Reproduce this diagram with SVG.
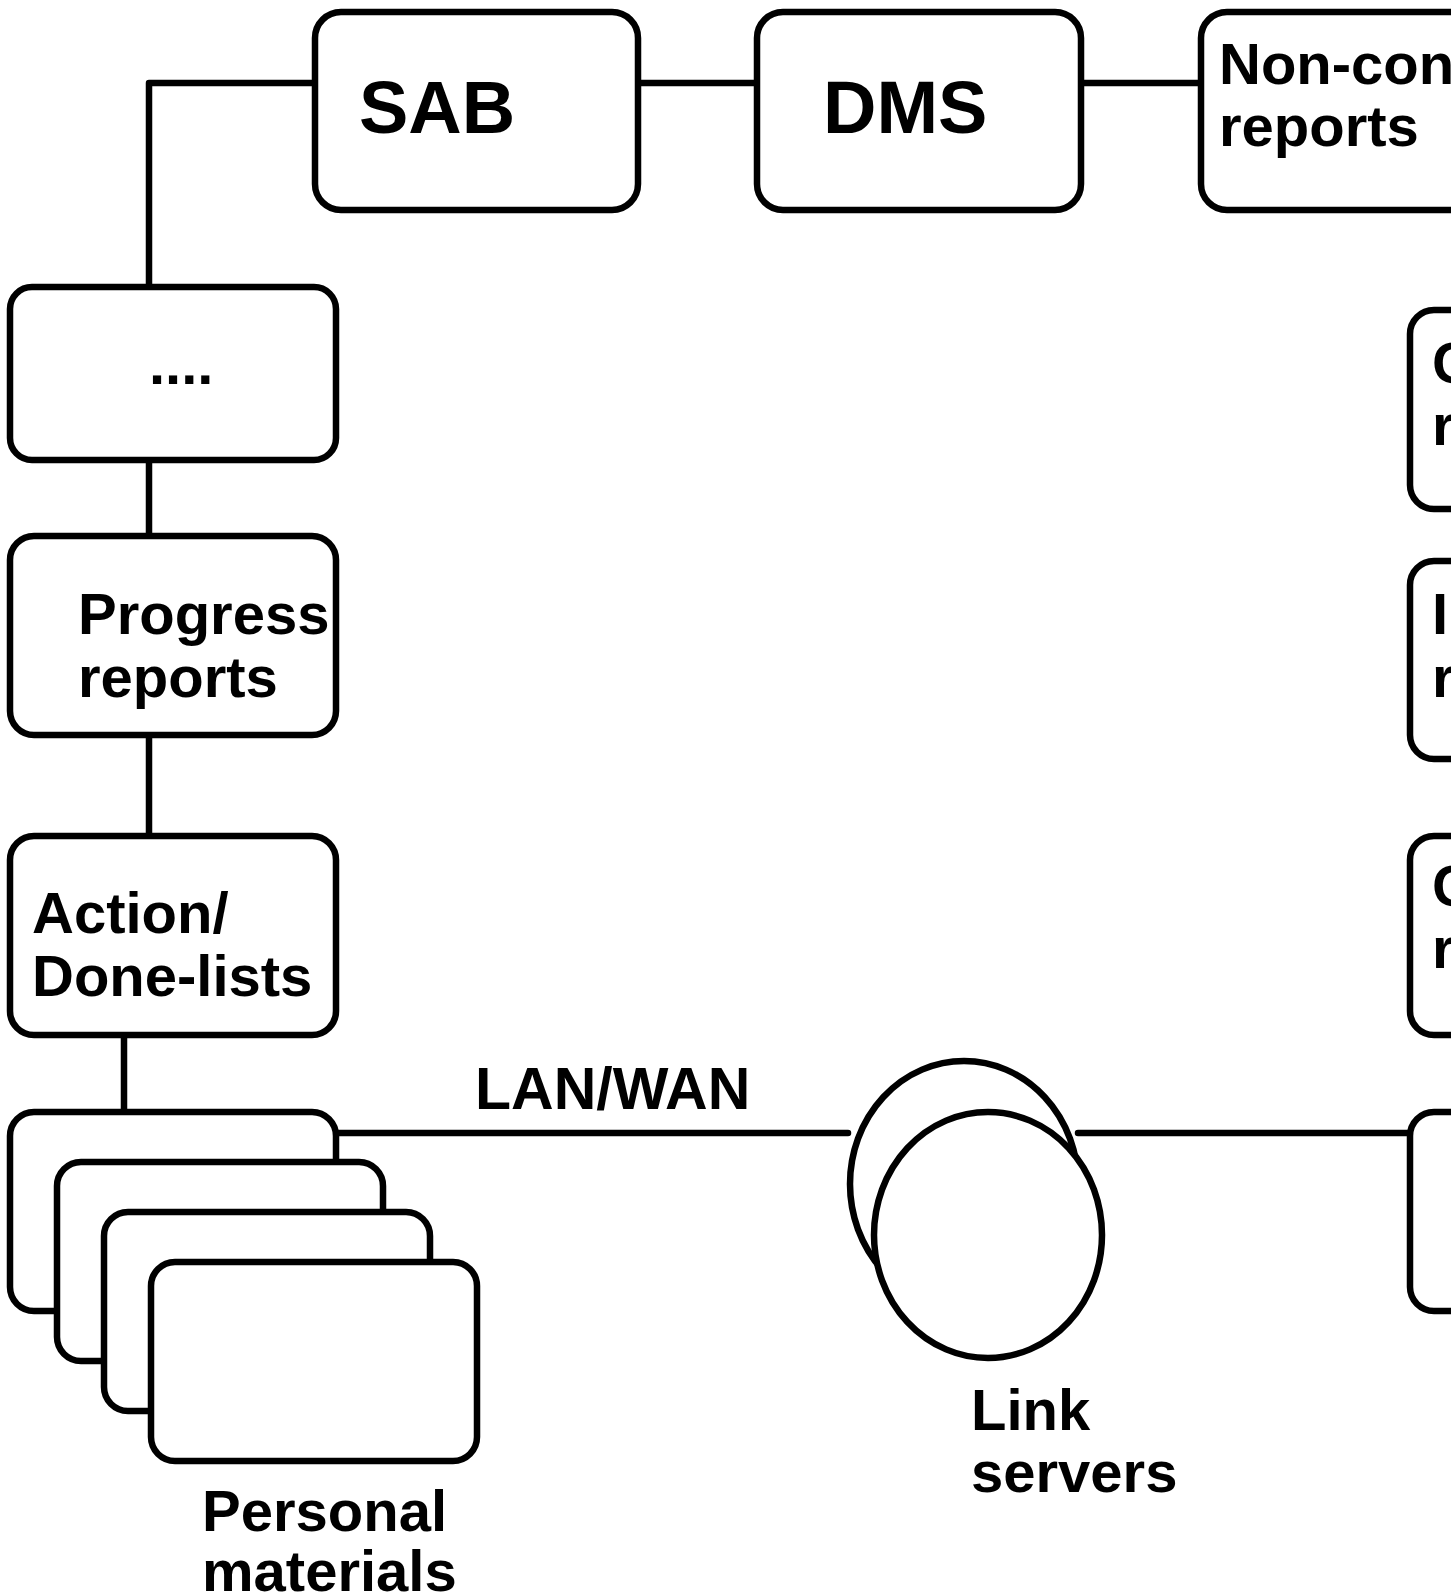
<svg xmlns="http://www.w3.org/2000/svg" width="1451" height="1593" viewBox="0 0 1451 1593">
<style>
.box{fill:#fff;stroke:#000;stroke-width:6.5}
.ln{fill:none;stroke:#000;stroke-width:6.5;stroke-linecap:round;stroke-linejoin:round}
.t{font-family:"Liberation Sans",Arial,sans-serif;font-weight:bold;font-size:58px;fill:#000}
.big{font-size:74px}
</style>
<rect width="1451" height="1593" fill="#fff"/>
<g id="connectors">
<polyline class="ln" points="315,83 149,83 149,287"/>
<line class="ln" x1="149" y1="460" x2="149" y2="536"/>
<line class="ln" x1="149" y1="735" x2="149" y2="836"/>
<line class="ln" x1="124" y1="1035" x2="124" y2="1112"/>
<line class="ln" x1="638" y1="83" x2="757" y2="83"/>
<line class="ln" x1="1081" y1="83" x2="1201" y2="83"/>
<line class="ln" x1="336" y1="1133" x2="848" y2="1133"/>
<line class="ln" x1="1078" y1="1133" x2="1410" y2="1133"/>
</g>
<g id="sab"><rect class="box" x="315" y="12" width="323" height="198" rx="26"/><text class="t big" x="359" y="133">SAB</text></g>
<g id="dms"><rect class="box" x="757" y="12" width="324" height="198" rx="26"/><text class="t big" x="823" y="133">DMS</text></g>
<g id="noncon"><rect class="box" x="1201" y="12" width="330" height="198" rx="26"/><text class="t" x="1219" y="84">Non-con</text><text class="t" x="1219" y="146">reports</text></g>
<g id="dots"><rect class="box" x="10" y="287" width="326" height="173" rx="22"/><text class="t" x="149" y="384">....</text></g>
<g id="progress"><rect class="box" x="10" y="536" width="326" height="199" rx="24"/><text class="t" x="78" y="634">Progress</text><text class="t" x="78" y="697">reports</text></g>
<g id="action"><rect class="box" x="10" y="836" width="326" height="199" rx="24"/><text class="t" x="32" y="933">Action/</text><text class="t" x="32" y="996">Done-lists</text></g>
<g id="right1"><rect class="box" x="1410" y="310" width="330" height="199" rx="24"/><text class="t" x="1432" y="383">C</text><text class="t" x="1432" y="445">r</text></g>
<g id="right2"><rect class="box" x="1410" y="561" width="330" height="198" rx="24"/><text class="t" x="1432" y="634">I</text><text class="t" x="1432" y="697">r</text></g>
<g id="right3"><rect class="box" x="1410" y="836" width="330" height="199" rx="24"/><text class="t" x="1432" y="906">C</text><text class="t" x="1432" y="968">r</text></g>
<g id="right4"><rect class="box" x="1410" y="1112" width="330" height="199" rx="24"/></g>
<g id="personal">
<rect class="box" x="10" y="1112" width="326" height="199" rx="24"/>
<rect class="box" x="57" y="1162" width="326" height="199" rx="24"/>
<rect class="box" x="104" y="1212" width="326" height="199" rx="24"/>
<rect class="box" x="151" y="1262" width="326" height="199" rx="24"/>
<text class="t" x="202" y="1531">Personal</text><text class="t" x="202" y="1591">materials</text>
</g>
<g id="lanwan"><text class="t" x="475" y="1109" style="font-size:59px">LAN/WAN</text></g>
<g id="linkservers">
<ellipse class="box" cx="964" cy="1184" rx="114" ry="123"/>
<ellipse class="box" cx="988" cy="1235" rx="114" ry="123"/>
<text class="t" x="971" y="1430">Link</text><text class="t" x="971" y="1492">servers</text>
</g>
</svg>
